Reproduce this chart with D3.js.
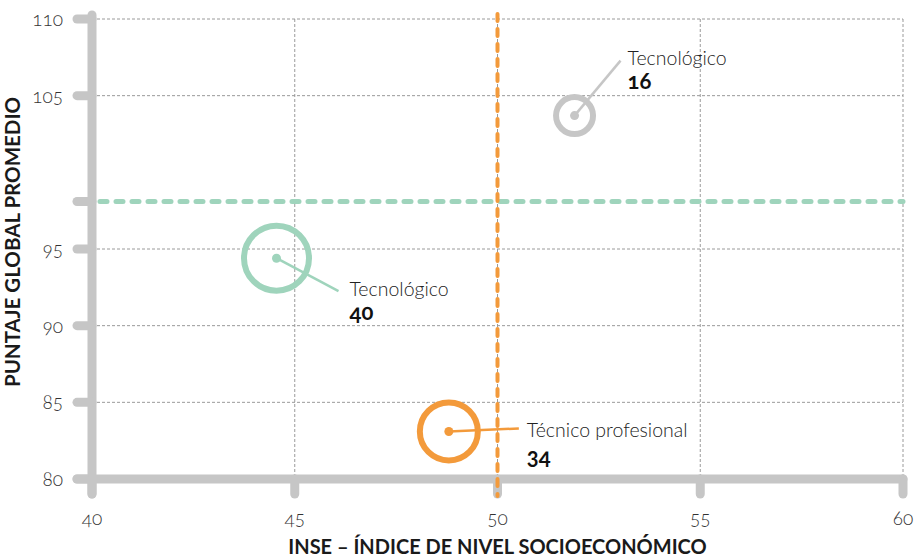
<!DOCTYPE html>
<html>
<head>
<meta charset="utf-8">
<script src="https://cdn.jsdelivr.net/npm/d3@7"></script>
<style>
  html, body { margin: 0; padding: 0; background: #fff; }
  svg { display: block; font-family: Lato, "Open Sans", sans-serif; }
  .tick-label { font-size: 19px; font-weight: 300; fill: #333; font-variant-numeric: oldstyle-nums; }
  .axis-title { font-weight: 700; fill: #1a1a1a; }
  .cat-label { font-size: 19.5px; font-weight: 300; fill: #222; }
  .num-label { font-size: 22px; font-weight: 700; fill: #111; font-variant-numeric: oldstyle-nums; }
</style>
</head>
<body>
<svg id="chart" width="919" height="560"></svg>
<script>
// Schools by modality: INSE vs average global score, ring size = number of schools
const categories = ["Tecnológico", "Tecnológico", "Técnico profesional"];
const inse = [51.9, 44.55, 48.8];
const puntaje = [103.7, 94.4, 83.1];
const counts = [16, 40, 34];
const colors = ["#c6c6c6", "#9fd4bc", "#f39a3b"];

const xTicks = [40, 45, 50, 55, 60];
const yTicks = [80, 85, 90, 95, 105, 110];
const avgInse = 50;
const avgPuntaje = 98.1;

const svg = d3.select("#chart");
const x = d3.scaleLinear().domain([40, 60]).range([92, 903]);
const y = d3.scaleLinear().domain([80, 110]).range([479, 19]);
const r = d3.scaleLinear().domain([16, 40]).range([18.5, 32.5]);

const axisColor = "#c6c6c6";
const gridColor = "#9a9a9a";

// Dashed grid
const grid = svg.append("g");
grid.selectAll("line.gy").data(yTicks.filter(v => v !== 80)).join("line")
  .attr("x1", x(40)).attr("x2", x(60))
  .attr("y1", d => y(d)).attr("y2", d => y(d))
  .attr("stroke", gridColor).attr("stroke-width", 1).attr("stroke-dasharray", "3,2");
grid.selectAll("line.gx").data(xTicks.filter(v => v !== 40)).join("line")
  .attr("x1", d => x(d)).attr("x2", d => x(d))
  .attr("y1", y(110)).attr("y2", y(80))
  .attr("stroke", gridColor).attr("stroke-width", 1).attr("stroke-dasharray", "3,2");

// Axes drawn as thick rounded strokes, ticks as short rounded stubs
const tickLen = 15;
const axes = svg.append("g")
  .attr("stroke", axisColor).attr("stroke-width", 9).attr("stroke-linecap", "round");
axes.append("line").attr("x1", x(40)).attr("x2", x(40))
  .attr("y1", y(110) - 4).attr("y2", y(80) + tickLen);
axes.append("line").attr("x1", x(40) - tickLen).attr("x2", x(60))
  .attr("y1", y(80)).attr("y2", y(80));
axes.selectAll("line.ty").data(yTicks.concat([avgPuntaje])).join("line")
  .attr("x1", x(40) - tickLen).attr("x2", x(40))
  .attr("y1", d => y(d)).attr("y2", d => y(d));
axes.selectAll("line.tx").data(xTicks).join("line")
  .attr("x1", d => x(d)).attr("x2", d => x(d))
  .attr("y1", y(80)).attr("y2", y(80) + tickLen);

// Tick labels
svg.append("g").selectAll("text").data(yTicks).join("text")
  .attr("class", "tick-label")
  .attr("x", x(40) - 29).attr("y", d => y(d) + 7)
  .attr("text-anchor", "end").text(d => d);
svg.append("g").selectAll("text").data(xTicks).join("text")
  .attr("class", "tick-label")
  .attr("x", d => x(d)).attr("y", 525)
  .attr("text-anchor", "middle").text(d => d);

// Axis titles
svg.append("text").attr("class", "axis-title")
  .style("font-size", "20px")
  .attr("x", x(50)).attr("y", 554).attr("text-anchor", "middle")
  .text("INSE – ÍNDICE DE NIVEL SOCIOECONÓMICO");
svg.append("text").attr("class", "axis-title")
  .style("font-size", "20.5px")
  .attr("transform", "translate(20,242) rotate(-90)")
  .attr("text-anchor", "middle")
  .text("PUNTAJE GLOBAL PROMEDIO");

// Reference lines: averages
svg.append("line")
  .attr("x1", x(40) + 8).attr("x2", x(60))
  .attr("y1", y(avgPuntaje)).attr("y2", y(avgPuntaje))
  .attr("stroke", "#9fd4bc").attr("stroke-width", 5)
  .attr("stroke-linecap", "round").attr("stroke-dasharray", "7,9");
svg.append("line")
  .attr("x1", x(avgInse)).attr("x2", x(avgInse))
  .attr("y1", y(110) - 5).attr("y2", y(80) + tickLen + 2)
  .attr("stroke", "#f39a3b").attr("stroke-width", 4)
  .attr("stroke-linecap", "round").attr("stroke-dasharray", "7,8");

// Label placement relative to each ring centre: leader end and text origin
const leaderEnd = [[46, -55], [62, 33], [70, -3]];
const textAt = [[53, -51], [73, 38], [78, 6]];

const pts = svg.append("g").selectAll("g").data(counts).join("g")
  .attr("transform", (d, i) => `translate(${x(inse[i])},${y(puntaje[i])})`);
pts.append("circle")
  .attr("r", d => r(d))
  .attr("fill", "none").attr("stroke", (d, i) => colors[i]).attr("stroke-width", 6);
pts.append("line")
  .attr("x1", 0).attr("y1", 0)
  .attr("x2", (d, i) => leaderEnd[i][0]).attr("y2", (d, i) => leaderEnd[i][1])
  .attr("stroke", (d, i) => colors[i]).attr("stroke-width", 2.5);
pts.append("circle").attr("r", 4.5).attr("fill", (d, i) => colors[i]);
pts.append("text").attr("class", "cat-label")
  .attr("x", (d, i) => textAt[i][0]).attr("y", (d, i) => textAt[i][1])
  .text((d, i) => categories[i]);
pts.append("text").attr("class", "num-label")
  .attr("x", (d, i) => textAt[i][0]).attr("y", (d, i) => textAt[i][1] + (i === 2 ? 27 : 24))
  .text(d => d);
</script>
</body>
</html>
